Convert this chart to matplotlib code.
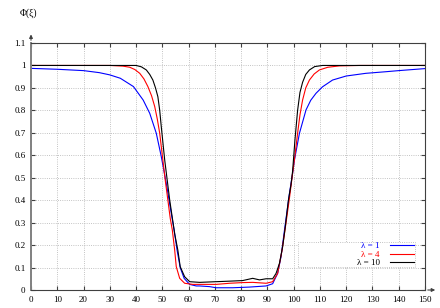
import matplotlib.pyplot as plt
from matplotlib.patches import Rectangle

plt.rcParams['font.family'] = ['Liberation Serif', 'DejaVu Serif']

# lambda = 1 (blue)
xi_1 = [0, 10, 20, 26, 30, 34, 39, 42.7, 45.2, 47.7, 49.6, 51.5, 53.4, 54.5, 55.6, 56.8,
        58.3, 60.4, 62.9, 64.2, 68, 70.5, 76.8, 83.1, 89.5, 92, 93.9, 95.2, 96.5, 98.4,
        99.6, 100.3, 102.2, 104.7, 106.5, 108.5, 111, 114.8, 120, 127.5, 135, 140, 150]
phi_1 = [0.987, 0.983, 0.977, 0.968, 0.958, 0.943, 0.906, 0.846, 0.787, 0.698, 0.594, 0.475,
         0.342, 0.267, 0.178, 0.1, 0.052, 0.025, 0.018, 0.018, 0.015, 0.01, 0.01, 0.013,
         0.018, 0.028, 0.074, 0.149, 0.267, 0.431, 0.52, 0.579, 0.698, 0.802, 0.845, 0.876,
         0.905, 0.935, 0.953, 0.965, 0.972, 0.977, 0.986]

# lambda = 4 (red)
xi_4 = [0, 30, 35, 37.6, 39.5, 41.4, 43, 44.5, 45.9, 47.1, 48.1, 49, 50.2, 51.1, 52.1, 53,
        53.8, 54.7, 55.3, 56.6, 58.5, 61.6, 64.2, 70.5, 75.6, 80.6, 84.4, 89.5, 92, 93.9,
        95.6, 97.1, 98.4, 99.6, 100.5, 101.5, 102.4, 103.4, 104.6, 106, 107.8, 109.8, 113,
        117.4, 125, 150]
phi_4 = [1.0, 1.0, 0.997, 0.992, 0.982, 0.965, 0.94, 0.906, 0.865, 0.817, 0.76, 0.698, 0.579,
         0.49, 0.401, 0.32, 0.267, 0.178, 0.104, 0.052, 0.03, 0.025, 0.025, 0.025, 0.03,
         0.033, 0.034, 0.03, 0.037, 0.074, 0.178, 0.3, 0.41, 0.52, 0.6, 0.698, 0.78, 0.846,
         0.9, 0.935, 0.962, 0.98, 0.992, 0.998, 1.0, 1.0]

# lambda = 10 (black)
xi_10 = [0, 40, 42, 43.9, 45.2, 46.4, 47.4, 48.3, 49, 49.6, 50.9, 52.8, 54.7, 55.9, 56.8,
         58.5, 60.4, 64.2, 70.5, 76.8, 80.6, 84.4, 87, 89.5, 92, 93.3, 94.6, 95.8, 96.8, 98,
         99, 99.6, 100.5, 101.5, 102.4, 103.4, 104.6, 106, 108, 111, 150]
phi_10 = [1.0, 1.0, 0.994, 0.98, 0.96, 0.935, 0.9, 0.861, 0.8, 0.727, 0.579, 0.401, 0.25,
          0.178, 0.104, 0.059, 0.037, 0.034, 0.037, 0.04, 0.042, 0.052, 0.045, 0.05, 0.05,
          0.074, 0.119, 0.193, 0.28, 0.4, 0.47, 0.53, 0.67, 0.8, 0.88, 0.925, 0.96, 0.98,
          0.995, 1.0, 1.0]

x_ticks = list(range(0, 151, 10))
y_ticks = [0, 0.1, 0.2, 0.3, 0.4, 0.5, 0.6, 0.7, 0.8, 0.9, 1.0, 1.1]
y_labels = ['0', '0.1', '0.2', '0.3', '0.4', '0.5', '0.6', '0.7', '0.8', '0.9', '1', '1.1']

fig = plt.figure(figsize=(4.4, 3.08), dpi=100)
ax = fig.add_axes([31 / 440, 18 / 308, 394 / 440, 247 / 308])

ax.plot(xi_1, phi_1, color='#0000ff', lw=0.8, label='λ = 1')
ax.plot(xi_4, phi_4, color='#ff0000', lw=0.8, label='λ = 4')
ax.plot(xi_10, phi_10, color='#000000', lw=0.8, label='λ = 10')

ax.set_xlim(0, 150)
ax.set_ylim(0, 1.1)
ax.set_xticks(x_ticks)
ax.set_xticklabels([str(t) for t in x_ticks])
ax.set_yticks(y_ticks)
ax.set_yticklabels(y_labels)
ax.tick_params(direction='in', length=3, width=0.8, labelsize=6.5, color='#404040',
               top=True, right=True, pad=4)
ax.grid(True, linestyle=':', color='#b0b0b0', lw=0.6)

for s in ['top', 'right', 'bottom']:
    ax.spines[s].set_color('#404040')
    ax.spines[s].set_linewidth(0.8)
ax.spines['left'].set_color('#808080')
ax.spines['left'].set_linewidth(1.4)

# gnuplot-like axis arrows
ax.annotate('', xy=(0, 1.046), xytext=(0, 1.0), xycoords='axes fraction',
            arrowprops=dict(arrowstyle='-|>', color='#404040', lw=0.8,
                            mutation_scale=5), annotation_clip=False)
ax.annotate('', xy=(1.033, 0), xytext=(1.0, 0), xycoords='axes fraction',
            arrowprops=dict(arrowstyle='-|>', color='#404040', lw=0.8,
                            mutation_scale=5), annotation_clip=False)

fig.text(28 / 440, 1 - 13 / 308, 'Φ(ξ)', fontsize=7, ha='center', va='center')

# legend box (gnuplot style, wide dotted frame)
ax.add_patch(Rectangle((0.678, 0.093), 0.297, 0.101, transform=ax.transAxes,
                       fill=True, facecolor='white', edgecolor='#b0b0b0',
                       linestyle=':', lw=0.6, zorder=4))
leg = ax.legend(loc='center right', bbox_to_anchor=(0.972, 0.1435), markerfirst=False,
                fontsize=6.5, labelcolor=['#0000ff', '#ff0000', '#000000'],
                handlelength=2.6, labelspacing=0.0, borderpad=0.0, frameon=False,
                handletextpad=1.2, borderaxespad=0)
leg.set_zorder(5)
for t in leg.get_texts():
    t.set_ha('right')

fig.savefig('out.png', dpi=100)
